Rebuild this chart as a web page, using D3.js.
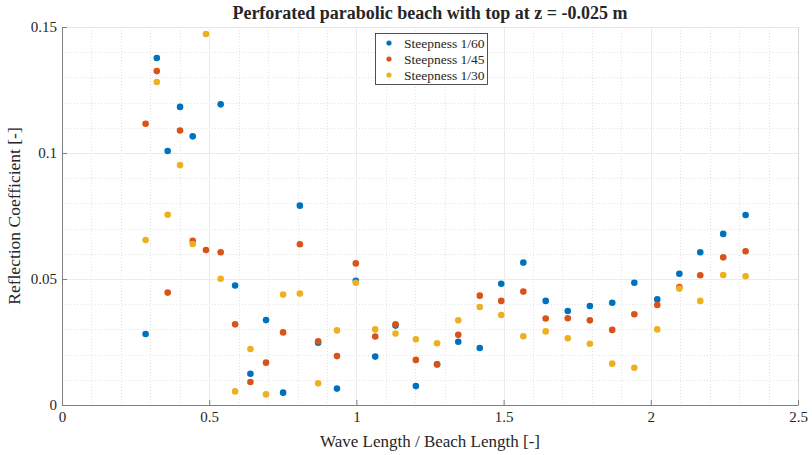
<!DOCTYPE html>
<html>
<head>
<meta charset="utf-8">
<script src="https://cdn.jsdelivr.net/npm/d3@7"></script>
<style>
  body { margin: 0; background: #fff; }
  svg text { font-family: "Liberation Serif", "Times New Roman", serif; fill: #262626; }
</style>
</head>
<body>
<div id="chart"></div>
<script>
//wave length / beach length (shared by all three series)
var lengthRatio = [0.284, 0.322, 0.359, 0.401, 0.444, 0.489, 0.539, 0.588, 0.640, 0.693,
  0.751, 0.808, 0.870, 0.934, 0.998, 1.064, 1.133, 1.202, 1.274, 1.346,
  1.419, 1.492, 1.567, 1.643, 1.718, 1.793, 1.869, 1.944, 2.022, 2.097,
  2.168, 2.246, 2.322];

//reflection coefficient per steepness (null = not visible in the picture)
var refl60 = [0.0282, 0.1377, 0.1008, 0.1183, 0.1066, null, 0.1193, 0.0474, 0.0124, 0.0337,
  0.0049, 0.0791, 0.0247, 0.0065, 0.0493, 0.0192, 0.0315, 0.0075, 0.0162, 0.0251,
  0.0226, 0.0481, 0.0565, 0.0413, 0.0373, 0.0393, 0.0406, 0.0485, 0.0419, 0.0521,
  0.0606, 0.0679, 0.0754];
var refl45 = [0.1116, 0.1325, 0.0446, 0.1089, 0.0652, 0.0615, 0.0606, 0.0320, 0.0091, 0.0168,
  0.0288, 0.0638, 0.0253, 0.0194, 0.0562, 0.0272, 0.0320, 0.0179, 0.0161, 0.0279,
  0.0434, 0.0413, 0.0450, 0.0343, 0.0344, 0.0336, 0.0298, 0.0360, 0.0397, 0.0468,
  0.0515, 0.0586, 0.0610];
var refl30 = [0.0655, 0.1282, 0.0755, 0.0952, 0.0639, 0.1472, 0.0501, 0.0054, 0.0222, 0.0042,
  0.0438, 0.0442, 0.0086, 0.0296, 0.0485, 0.0300, 0.0284, 0.0261, 0.0245, 0.0336,
  0.0389, 0.0357, 0.0273, 0.0292, 0.0265, 0.0243, 0.0164, 0.0148, 0.0300, 0.0462,
  0.0413, 0.0516, 0.0511];

var seriesNames = ["Steepness 1/60", "Steepness 1/45", "Steepness 1/30"];
var seriesColors = ["#0072BD", "#D95319", "#EDB120"];
var xTicks = [0, 0.5, 1, 1.5, 2, 2.5];
var yTicks = [0, 0.05, 0.1, 0.15];

var width = 812, height = 455;
var margin = {left: 62, right: 14, top: 27, bottom: 50};
var plotW = width - margin.left - margin.right;
var plotH = height - margin.top - margin.bottom;

var svg = d3.select("#chart").append("svg")
  .attr("width", width)
  .attr("height", height);

var x = d3.scaleLinear().domain([0, 2.5]).range([0, plotW]);
var y = d3.scaleLinear().domain([0, 0.15]).range([plotH, 0]);

var g = svg.append("g")
  .attr("transform", "translate(" + margin.left + "," + margin.top + ")");

//minor grid (dotted)
g.append("g").selectAll("line")
  .data(d3.range(0, 2.5001, 0.1))
  .join("line")
    .attr("x1", function (d) { return Math.round(x(d)) + 0.5; })
    .attr("x2", function (d) { return Math.round(x(d)) + 0.5; })
    .attr("y1", 0).attr("y2", plotH)
    .attr("stroke", "#e3e3e3").attr("stroke-dasharray", "1,2");
g.append("g").selectAll("line")
  .data(d3.range(0, 0.15001, 0.01))
  .join("line")
    .attr("y1", function (d) { return Math.round(y(d)) + 0.5; })
    .attr("y2", function (d) { return Math.round(y(d)) + 0.5; })
    .attr("x1", 0).attr("x2", plotW)
    .attr("stroke", "#e3e3e3").attr("stroke-dasharray", "1,2");

//major grid
g.append("g").selectAll("line")
  .data(xTicks)
  .join("line")
    .attr("x1", function (d) { return Math.round(x(d)) + 0.5; })
    .attr("x2", function (d) { return Math.round(x(d)) + 0.5; })
    .attr("y1", 0).attr("y2", plotH)
    .attr("stroke", "#ebebeb");
g.append("g").selectAll("line")
  .data(yTicks)
  .join("line")
    .attr("y1", function (d) { return Math.round(y(d)) + 0.5; })
    .attr("y2", function (d) { return Math.round(y(d)) + 0.5; })
    .attr("x1", 0).attr("x2", plotW)
    .attr("stroke", "#ebebeb");

//box (top / right lighter)
g.append("line").attr("x1", 0).attr("x2", plotW).attr("y1", 0.5).attr("y2", 0.5)
  .attr("stroke", "#e6e6e6");
g.append("line").attr("x1", plotW + 0.5).attr("x2", plotW + 0.5).attr("y1", 0).attr("y2", plotH)
  .attr("stroke", "#d9d9d9");

//axes, ticks drawn inside
var xAxis = g.append("g")
  .attr("transform", "translate(0," + plotH + ")")
  .call(d3.axisBottom(x).tickValues(xTicks).tickSizeInner(-5).tickSizeOuter(0)
    .tickFormat(d3.format("")));
var yAxis = g.append("g")
  .call(d3.axisLeft(y).tickValues(yTicks).tickSizeInner(-5).tickSizeOuter(0)
    .tickFormat(d3.format("")));

[xAxis, yAxis].forEach(function (ax) {
  ax.select(".domain").attr("stroke", "#808080");
  ax.selectAll(".tick line").attr("stroke", "#808080");
  ax.selectAll(".tick text")
    .style("font-family", "'Liberation Serif', serif")
    .style("font-size", "15px")
    .attr("fill", "#262626");
});
xAxis.selectAll(".tick text").attr("y", 6);
yAxis.selectAll(".tick text").attr("x", -5);

//points, one series after another so later ones sit on top
var allSeries = [refl60, refl45, refl30];
allSeries.forEach(function (values, i) {
  var pts = lengthRatio.map(function (r, j) { return {x: r, y: values[j]}; })
    .filter(function (d) { return d.y != null; });
  g.append("g").selectAll("circle")
    .data(pts)
    .join("circle")
      .attr("cx", function (d) { return x(d.x); })
      .attr("cy", function (d) { return y(d.y); })
      .attr("r", 3.3)
      .attr("fill", seriesColors[i]);
});

//title and axis labels
svg.append("text")
  .attr("x", margin.left + plotW / 2)
  .attr("y", 19)
  .attr("text-anchor", "middle")
  .style("font-size", "18px")
  .style("font-weight", "bold")
  .attr("fill", "#000")
  .text("Perforated parabolic beach with top at z = -0.025 m");

svg.append("text")
  .attr("x", margin.left + plotW / 2)
  .attr("y", 447)
  .attr("text-anchor", "middle")
  .style("font-size", "17px")
  .text("Wave Length / Beach Length [-]");

svg.append("text")
  .attr("transform", "translate(20," + (margin.top + plotH / 2) + ")rotate(-90)")
  .attr("text-anchor", "middle")
  .style("font-size", "17.5px")
  .text("Reflection Coefficient [-]");

//legend
var legend = svg.append("g").attr("transform", "translate(375,33)");
legend.append("rect")
  .attr("x", 0.5).attr("y", 0.5)
  .attr("width", 112).attr("height", 51)
  .attr("fill", "#fff")
  .attr("stroke", "#262626")
  .attr("stroke-width", 0.8);
seriesNames.forEach(function (name, i) {
  var row = legend.append("g").attr("transform", "translate(0," + (10 + i * 16) + ")");
  row.append("circle").attr("cx", 14).attr("cy", 0).attr("r", 2.6).attr("fill", seriesColors[i]);
  row.append("text")
    .attr("x", 29).attr("y", 4.5)
    .style("font-size", "13.5px")
    .attr("fill", "#000")
    .text(name);
});
</script>
</body>
</html>
